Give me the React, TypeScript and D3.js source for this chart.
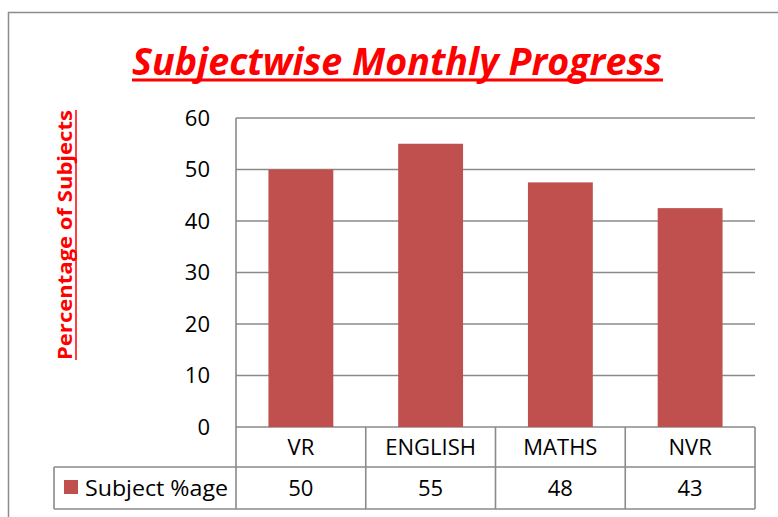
import * as d3 from 'd3';

const subjects = ['VR', 'ENGLISH', 'MATHS', 'NVR'];
const percentages = [50, 55, 47.5, 42.5];
const tableLabels = ['50', '55', '48', '43'];
const yTicks = [0, 10, 20, 30, 40, 50, 60];
const seriesName = 'Subject %age';

const W = 778;
const H = 517;
const plot = { left: 236, right: 755, top: 118, bottom: 427 };
const rowCat = 467;
const rowVal = 509;
const legendLeft = 54;
const font = "'Open Sans', sans-serif";
const gridColor = '#8a8a8a';
const barColor = '#C0504D';

export default function App() {
  const x = d3.scaleBand<string>().domain(subjects).range([plot.left, plot.right]).paddingInner(0.5).paddingOuter(0.25);
  const band = d3.scaleBand<string>().domain(subjects).range([plot.left, plot.right]);
  const y = d3.scaleLinear().domain([0, 60]).range([plot.bottom, plot.top]);

  return (
    <svg width={W} height={H} style={{ position: 'absolute', left: 0, top: 0, background: '#fff' }}>
      {/* outer chart border */}
      <rect x={8.5} y={12.5} width={W + 20} height={H + 20} fill="none" stroke="#8c8c8c" strokeWidth={1.5} />

      {/* title */}
      <text x={397} y={75} textAnchor="middle" fill="#ff0000" fontFamily={font} fontSize={37}
        fontWeight="bold" fontStyle="italic" textLength={530} lengthAdjust="spacingAndGlyphs">
        Subjectwise Monthly Progress
      </text>
      <line x1={132} x2={663} y1={80} y2={80} stroke="#ff0000" strokeWidth={3} />

      {/* y axis title */}
      <g transform="translate(72,235) rotate(-90)">
        <text x={0} y={0} textAnchor="middle" fill="#ff0000" fontFamily={font} fontSize={20}
          fontWeight="bold" textLength={250} lengthAdjust="spacingAndGlyphs">
          Percentage of Subjects
        </text>
        <line x1={-125} x2={125} y1={4} y2={4} stroke="#ff0000" strokeWidth={1.5} />
      </g>

      {/* gridlines */}
      {yTicks.map(t => (
        <line key={t} x1={plot.left} x2={plot.right} y1={y(t)} y2={y(t)} stroke={gridColor} strokeWidth={1.6} />
      ))}
      {yTicks.map(t => (
        <text key={'l' + t} x={210} y={y(t)} dy="0.36em" textAnchor="end" fontFamily={font} fontSize={22} fill="#000">
          {t}
        </text>
      ))}

      {/* bars */}
      {subjects.map((s, i) => (
        <rect key={s} x={x(s)} y={y(percentages[i])} width={x.bandwidth()} height={plot.bottom - y(percentages[i])} fill={barColor} />
      ))}

      {/* data table */}
      <line x1={plot.left} x2={plot.left} y1={plot.top} y2={rowVal} stroke={gridColor} strokeWidth={1.6} />
      <line x1={legendLeft} x2={plot.right} y1={rowCat} y2={rowCat} stroke={gridColor} strokeWidth={1.6} />
      <line x1={legendLeft} x2={plot.right} y1={rowVal} y2={rowVal} stroke={gridColor} strokeWidth={1.6} />
      <line x1={legendLeft} x2={legendLeft} y1={rowCat} y2={rowVal} stroke={gridColor} strokeWidth={1.6} />
      {subjects.map(s => (
        <line key={'v' + s} x1={(band(s) as number) + band.bandwidth()} x2={(band(s) as number) + band.bandwidth()}
          y1={plot.bottom} y2={rowVal} stroke={gridColor} strokeWidth={1.6} />
      ))}
      {subjects.map(s => (
        <text key={'c' + s} x={(band(s) as number) + band.bandwidth() / 2} y={(plot.bottom + rowCat) / 2} dy="0.36em"
          textAnchor="middle" fontFamily={font} fontSize={22} fill="#000">
          {s}
        </text>
      ))}
      {subjects.map((s, i) => (
        <text key={'d' + s} x={(band(s) as number) + band.bandwidth() / 2} y={(rowCat + rowVal) / 2} dy="0.36em"
          textAnchor="middle" fontFamily={font} fontSize={22} fill="#000">
          {tableLabels[i]}
        </text>
      ))}
      <rect x={64} y={480} width={14} height={14} fill={barColor} />
      <text x={85} y={(rowCat + rowVal) / 2} dy="0.36em" fontFamily={font} fontSize={22} fill="#000"
        textLength={143} lengthAdjust="spacingAndGlyphs">
        {seriesName}
      </text>
    </svg>
  );
}
